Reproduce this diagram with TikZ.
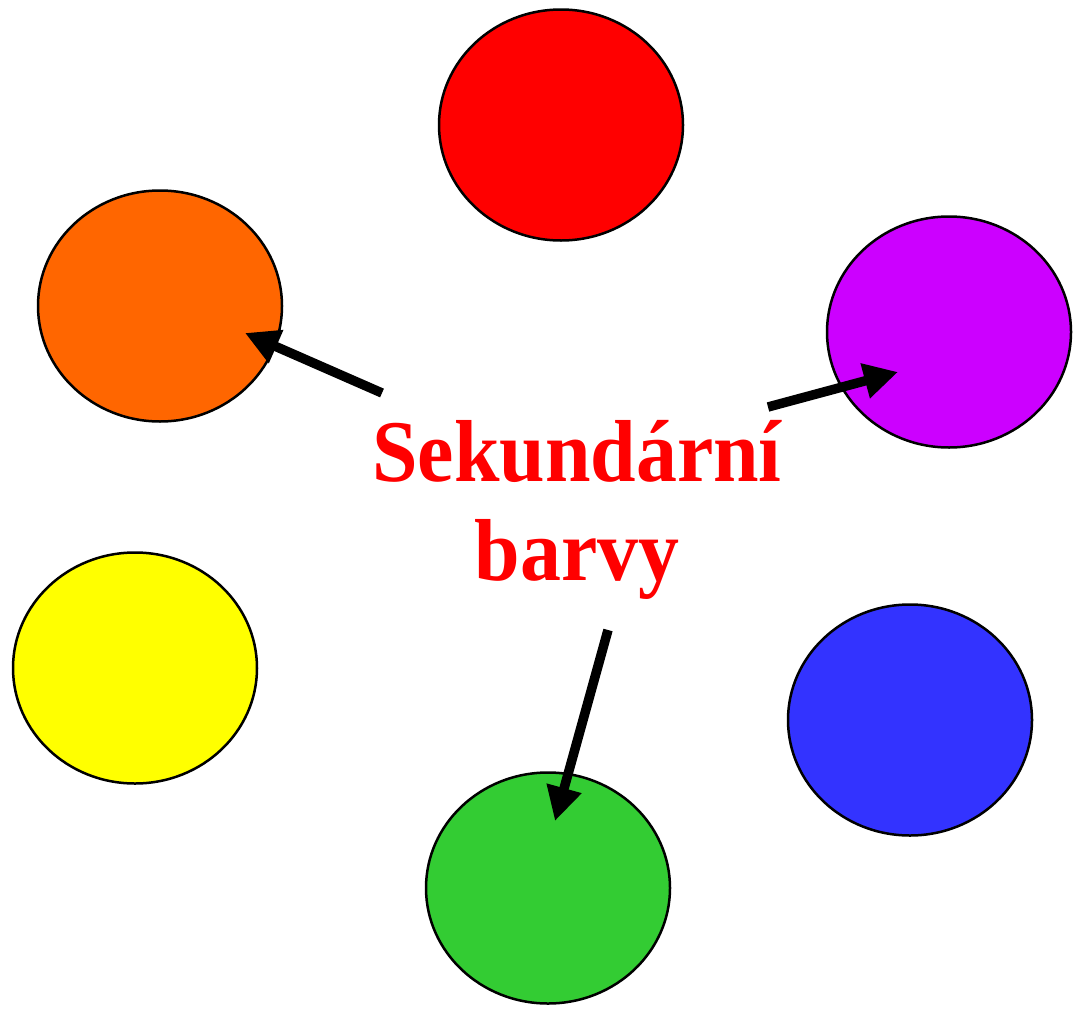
\documentclass[tikz,border=0pt]{standalone}
\usepackage{fontspec}
\setmainfont{Liberation Serif}
\usetikzlibrary{shapes.geometric,arrows.meta}
\definecolor{cred}{HTML}{FF0000}
\definecolor{corange}{HTML}{FF6600}
\definecolor{cpurple}{HTML}{CC00FF}
\definecolor{cyellow}{HTML}{FFFF00}
\definecolor{cblue}{HTML}{3333FF}
\definecolor{cgreen}{HTML}{33CC33}
\tikzset{
  blob/.style={ellipse, draw=black, line width=2.5pt, minimum width=244pt, minimum height=231pt, inner sep=0pt},
  bigarrow/.style={line width=9.5pt, -{Triangle[length=34pt,width=34pt]}, line cap=butt}
}
\begin{document}
\begin{tikzpicture}[x=1pt,y=-1pt]
\useasboundingbox (0,0) rectangle (1076,1009);
\node[blob, fill=cred]    (red)    at (561,125) {};
\node[blob, fill=corange] (orange) at (160,306) {};
\node[blob, fill=cpurple] (purple) at (949,332) {};
\node[blob, fill=cyellow] (yellow) at (135,668) {};
\node[blob, fill=cblue]   (blue)   at (910,720) {};
\node[blob, fill=cgreen]  (green)  at (548,888) {};
\node[text=cred, font=\bfseries\fontsize{88}{99}\selectfont, align=center, xscale=0.93] (label) at (577,510) {Sekundární\\barvy};
\coordinate (t1) at (382,393);
\coordinate (h1) at (245,333);
\coordinate (t2) at (768,407);
\coordinate (h2) at (898,372);
\coordinate (t3) at (608,630);
\coordinate (h3) at (555,821);
\draw[bigarrow] (t1) -- (h1);
\draw[bigarrow] (t2) -- (h2);
\draw[bigarrow] (t3) -- (h3);
\end{tikzpicture}
\end{document}
